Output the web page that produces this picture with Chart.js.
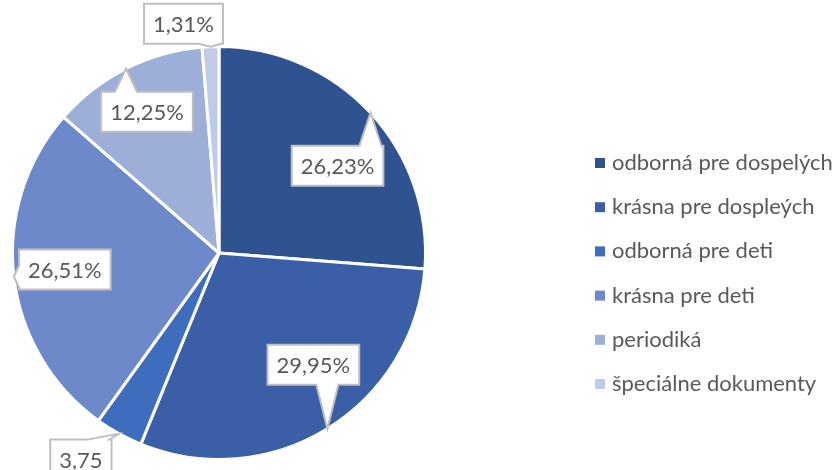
<!DOCTYPE html>
<html>
<head>
<meta charset="utf-8">
<script src="https://cdn.jsdelivr.net/npm/chart.js@4.4.1/dist/chart.umd.min.js"></script>
<style>
  html, body { margin: 0; padding: 0; background: #fff; }
  #wrap { width: 838px; height: 470px; }
</style>
</head>
<body>
<div id="wrap"><canvas id="pie"></canvas></div>
<script>
const categories = [
  "odborná pre dospelých",
  "krásna pre dospleých",
  "odborná pre deti",
  "krásna pre deti",
  "periodiká",
  "špeciálne dokumenty"
];
const shares = [26.23, 29.95, 3.75, 26.51, 12.25, 1.31];
const sliceColors = ["#2f5290", "#3a5fa7", "#3f6dbe", "#6e89ca", "#9daed8", "#bfcbe7"];

// callout box offset from the point on the rim (dx, dy), and whether the text wraps
const calloutOffsets = [[-33, 53], [-14, -64], [-38, 36], [51, -7], [21, 43], [-27, -23]];
const wrapped = [false, false, true, false, false, false];

function formatShare(v) {
  return v.toFixed(2).replace(".", ",") + "%";
}

const calloutPlugin = {
  id: "callouts",
  afterDatasetsDraw(chart) {
    const ctx = chart.ctx;
    const meta = chart.getDatasetMeta(0);
    ctx.save();
    ctx.font = "22px Lato";
    ctx.textAlign = "center";
    ctx.textBaseline = "middle";
    meta.data.forEach((arc, i) => {
      const p = arc.getProps(["x", "y", "startAngle", "endAngle", "outerRadius"], true);
      const mid = (p.startAngle + p.endAngle) / 2;
      const tip = { x: p.x + Math.cos(mid) * p.outerRadius, y: p.y + Math.sin(mid) * p.outerRadius };
      const txt = formatShare(shares[i]);
      const lines = wrapped[i] ? [txt.slice(0, -1), "%"] : [txt];
      const lineH = 24;
      const w = Math.max(...lines.map(l => ctx.measureText(l).width)) + 18;
      const h = lines.length * lineH + 16;
      const cx = tip.x + calloutOffsets[i][0];
      const cy = tip.y + calloutOffsets[i][1];
      const l = cx - w / 2, r = cx + w / 2;
      const t = wrapped[i] ? cy - 30 : cy - h / 2;
      const b = t + h;

      const clamp = (v, lo, hi) => Math.max(lo, Math.min(hi, v));
      let edge;
      if (tip.y < t) edge = "top";
      else if (tip.y > b) edge = "bottom";
      else if (tip.x < l) edge = "left";
      else edge = "right";

      const pts = [];
      pts.push([l, t]);
      if (edge === "top") {
        const b0 = clamp(tip.x - 11, l + 2, r - 24), b1 = b0 + 22;
        pts.push([b0, t], [tip.x, tip.y], [b1, t]);
      }
      pts.push([r, t]);
      if (edge === "right") {
        const b0 = clamp(tip.y - 11, t + 2, b - 24), b1 = b0 + 22;
        pts.push([r, b0], [tip.x, tip.y], [r, b1]);
      }
      pts.push([r, b]);
      if (edge === "bottom") {
        const b0 = clamp(tip.x - 11, l + 2, r - 24), b1 = b0 + 22;
        pts.push([b1, b], [tip.x, tip.y], [b0, b]);
      }
      pts.push([l, b]);
      if (edge === "left") {
        const b0 = clamp(tip.y - 11, t + 2, b - 24), b1 = b0 + 22;
        pts.push([l, b1], [tip.x, tip.y], [l, b0]);
      }

      ctx.beginPath();
      pts.forEach((pt, k) => k ? ctx.lineTo(pt[0], pt[1]) : ctx.moveTo(pt[0], pt[1]));
      ctx.closePath();
      ctx.fillStyle = "#ffffff";
      ctx.fill();
      ctx.lineWidth = 2;
      ctx.strokeStyle = "#bfbfbf";
      ctx.stroke();

      ctx.fillStyle = "#595959";
      lines.forEach((line, k) => {
        ctx.fillText(line, cx, t + 8 + lineH / 2 + k * lineH + 1);
      });
    });
    ctx.restore();
  }
};

const legendPlugin = {
  id: "sideLegend",
  afterDraw(chart) {
    const ctx = chart.ctx;
    const ds = chart.data.datasets[0];
    ctx.save();
    ctx.font = "22px Lato";
    ctx.textBaseline = "middle";
    chart.data.labels.forEach((label, i) => {
      const y = 163 + i * 44.2;
      ctx.fillStyle = ds.backgroundColor[i];
      ctx.fillRect(595, y - 5, 10, 10);
      ctx.fillStyle = "#595959";
      ctx.fillText(label, 612, y);
    });
    ctx.restore();
  }
};

new Chart(document.getElementById("pie"), {
  type: "pie",
  data: {
    labels: categories,
    datasets: [{
      data: shares,
      backgroundColor: sliceColors,
      borderColor: "#ffffff",
      borderWidth: 3
    }]
  },
  options: {
    responsive: true,
    maintainAspectRatio: false,
    animation: false,
    layout: { padding: { left: 10, right: 410, top: 45, bottom: 9 } },
    plugins: {
      legend: { display: false },
      tooltip: { enabled: false }
    }
  },
  plugins: [calloutPlugin, legendPlugin]
});
</script>
</body>
</html>
